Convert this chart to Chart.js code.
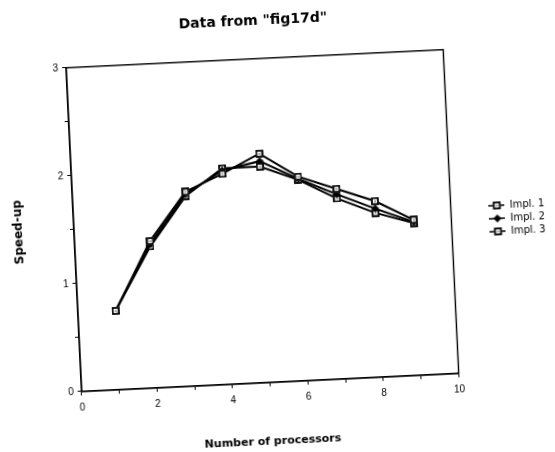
<!DOCTYPE html>
<html>
<head>
<meta charset="utf-8">
<script src="https://cdn.jsdelivr.net/npm/chart.js@4"></script>
<style>
  html, body { margin: 0; padding: 0; background: #fff; overflow: hidden; }
  #wrap { width: 555px; height: 452px; transform: rotate(-2.75deg); transform-origin: 50% 50%; }
</style>
</head>
<body>
<div id="wrap"><canvas id="speedChart" width="555" height="452"></canvas></div>
<script>
const processors = [1, 2, 3, 4, 5, 6, 7, 8, 9];
const impl1 = [0.73, 1.36, 1.80, 1.95, 2.12, 1.89, 1.76, 1.63, 1.44];
const impl2 = [0.73, 1.33, 1.78, 1.98, 2.05, 1.87, 1.71, 1.56, 1.42];
const impl3 = [0.73, 1.31, 1.76, 2.00, 2.00, 1.86, 1.67, 1.52, 1.41];
const seriesNames = ["Impl. 1", "Impl. 2", "Impl. 3"];

// little marker images
function squareDot() {
  const c = document.createElement("canvas");
  c.width = 8; c.height = 8;
  const g = c.getContext("2d");
  g.fillStyle = "#fff";
  g.fillRect(0, 0, 8, 8);
  g.strokeStyle = "#000";
  g.lineWidth = 1.8;
  g.strokeRect(1, 1, 6, 6);
  g.fillStyle = "#000";
  g.fillRect(3.5, 3.5, 1.2, 1.2);
  return c;
}
function diamond() {
  const c = document.createElement("canvas");
  c.width = 8; c.height = 8;
  const g = c.getContext("2d");
  g.fillStyle = "#000";
  g.beginPath();
  g.moveTo(4, 0); g.lineTo(8, 4); g.lineTo(4, 8); g.lineTo(0, 4);
  g.closePath();
  g.fill();
  return c;
}
function legendIcon(marker) {
  const c = document.createElement("canvas");
  c.width = 16; c.height = 8;
  const g = c.getContext("2d");
  g.strokeStyle = "#000";
  g.lineWidth = 1.5;
  g.beginPath(); g.moveTo(0, 4); g.lineTo(16, 4); g.stroke();
  g.drawImage(marker, 4, 0);
  return c;
}

const markers = [squareDot(), diamond(), squareDot()];

const frameBox = {
  id: "frameBox",
  afterDraw(chart) {
    const a = chart.chartArea;
    const ctx = chart.ctx;
    ctx.save();
    ctx.strokeStyle = "#000";
    ctx.lineWidth = 1.4;
    ctx.strokeRect(a.left, a.top, a.right - a.left, a.bottom - a.top);
    ctx.restore();
  },
};

function makeSet(i, values) {
  return {
    label: seriesNames[i],
    data: processors.map((x, k) => ({ x: x, y: values[k] })),
    borderColor: "#000",
    backgroundColor: "#fff",
    borderWidth: 2,
    pointStyle: markers[i],
    pointRadius: 4,
    tension: 0,
  };
}

const font = "'Liberation Sans', Arial, sans-serif";
const boldFont = "'DejaVu Sans', sans-serif";

new Chart(document.getElementById("speedChart").getContext("2d"), {
  type: "line",
  data: {
    datasets: [makeSet(0, impl1), makeSet(1, impl2), makeSet(2, impl3)],
  },
  options: {
    responsive: false,
    animation: false,
    layout: { padding: { left: 8, right: 0, top: 6, bottom: 0 } },
    scales: {
      x: {
        type: "linear",
        min: 0,
        max: 10,
        ticks: {
          stepSize: 1,
          color: "#000",
          font: { family: font, size: 10 },
          maxRotation: 0,
          padding: 6,
          callback: (v) => (v % 2 === 0 ? v : ""),
        },
        grid: { drawOnChartArea: false, color: "#000", tickLength: 4, lineWidth: 1 },
        border: { color: "#000", width: 1.4 },
        title: {
          display: true,
          text: "Number of processors",
          color: "#000",
          font: { family: boldFont, size: 11, weight: "bold" },
          padding: { top: 25 },
        },
      },
      y: {
        min: 0,
        max: 3,
        ticks: {
          stepSize: 0.5,
          color: "#000",
          font: { family: font, size: 10 },
          padding: 4,
          callback: (v) => (Number.isInteger(v) ? v : ""),
        },
        grid: { drawOnChartArea: false, color: "#000", tickLength: 4, lineWidth: 1 },
        border: { color: "#000", width: 1.4 },
        title: {
          display: true,
          text: "Speed-up",
          color: "#000",
          font: { family: boldFont, size: 12, weight: "bold" },
          padding: { bottom: 30 },
        },
      },
      // empty axis only to leave room between the frame and the legend
      gap: {
        type: "linear",
        position: "right",
        display: true,
        ticks: { display: false },
        grid: { display: false },
        border: { display: false },
        afterFit: (scale) => { scale.width = 35; },
      },
    },
    plugins: {
      title: {
        display: true,
        fullSize: false,
        text: 'Data from "fig17d"',
        color: "#000",
        font: { family: boldFont, size: 14, weight: "bold" },
        padding: { top: 6, bottom: 29 },
      },
      legend: {
        position: "right",
        labels: {
          color: "#000",
          font: { family: boldFont, size: 10 },
          usePointStyle: true,
          pointStyleWidth: 16,
          padding: 3,
          generateLabels: (chart) =>
            chart.data.datasets.map((ds, i) => ({
              text: ds.label,
              pointStyle: legendIcon(markers[i]),
              fontColor: "#000",
              strokeStyle: "#000",
              fillStyle: "#fff",
              lineWidth: 0,
              datasetIndex: i,
            })),
        },
      },
      tooltip: { enabled: false },
    },
  },
  plugins: [frameBox],
});
</script>
</body>
</html>
